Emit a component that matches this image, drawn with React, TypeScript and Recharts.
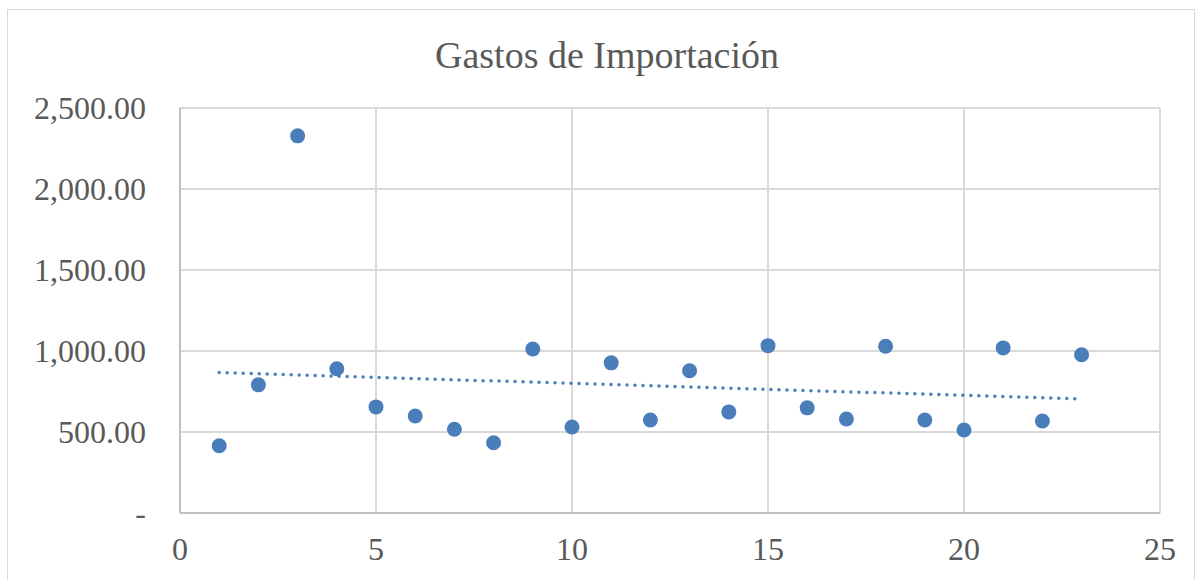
import React from 'react';
import { ComposedChart, Scatter, Line, XAxis, YAxis, CartesianGrid } from 'recharts';

const periods = [1,2,3,4,5,6,7,8,9,10,11,12,13,14,15,16,17,18,19,20,21,22,23];
const gastos = [415,791,2328,890,655,599,517,434,1012,531,927,574,878,624,1033,649,580,1029,574,512,1019,568,977];
const trendX = [1, 23];
const trendY = [867, 704];
const xTicks = [0,5,10,15,20,25];
const yTicks = [0,500,1000,1500,2000,2500];
const title = 'Gastos de Importación';

const points = periods.map((x, i) => ({ x, y: gastos[i] }));
const trend = trendX.map((x, i) => ({ x, t: trendY[i] }));

const fmtY = (v: number) => v === 0 ? '-' : v.toLocaleString('en-US', { minimumFractionDigits: 2, maximumFractionDigits: 2 });

const Dot = (props: any) => {
  const { cx, cy } = props;
  return <circle cx={cx} cy={cy} r={7.5} fill="#4a7ebb" />;
};

const font = '"Liberation Serif", "Times New Roman", serif';

export default function App() {
  return (
    <div style={{ position: 'absolute', left: 0, top: 0, width: 1203, height: 580, background: '#fff', overflow: 'hidden' }}>
      <div style={{ position: 'absolute', left: 7, top: 9, width: 1188, height: 600, border: '1px solid #d9d9d9', boxSizing: 'border-box' }} />
      <div style={{ position: 'absolute', left: 7, width: 1200, top: 33, textAlign: 'center', fontFamily: font, fontSize: 38, color: '#595959', lineHeight: '44px' }}>{title}</div>
      <div style={{ position: 'absolute', left: 0, top: 0 }}>
        <ComposedChart width={1203} height={580} margin={{ top: 108, right: 43, bottom: 37, left: 8 }}>
          <CartesianGrid stroke="#d9d9d9" strokeWidth={2} />
          <XAxis type="number" dataKey="x" domain={[0, 25]} ticks={xTicks} interval={0}
            axisLine={{ stroke: '#bfbfbf', strokeWidth: 2 }} tickLine={false} tickSize={0} tickMargin={24} height={30}
            tick={{ fontFamily: font, fontSize: 32, fill: '#595959' }} allowDataOverflow />
          <YAxis type="number" domain={[0, 2500]} ticks={yTicks} interval={0} width={172}
            axisLine={{ stroke: '#bfbfbf', strokeWidth: 2 }} tickLine={false} tickSize={0} tickMargin={34}
            tickFormatter={fmtY} tick={{ fontFamily: font, fontSize: 32, fill: '#595959' }} />
          <Line data={trend} dataKey="t" type="linear" stroke="#4a7ebb" strokeWidth={3.5} strokeDasharray="0 8" strokeLinecap="round" dot={false} activeDot={false} isAnimationActive={false} />
          <Scatter data={points} dataKey="y" shape={<Dot />} isAnimationActive={false} />
        </ComposedChart>
      </div>
    </div>
  );
}
